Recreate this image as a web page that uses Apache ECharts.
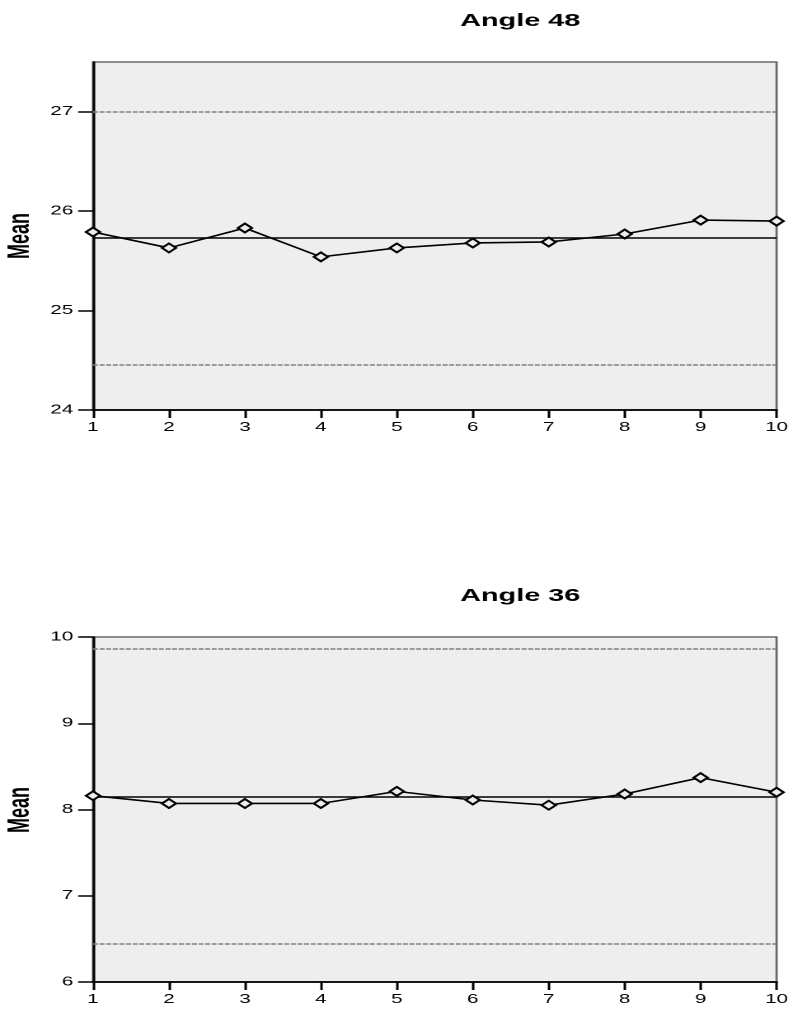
<!DOCTYPE html>
<html>
<head>
<meta charset="utf-8">
<script src="https://cdn.jsdelivr.net/npm/echarts@6/dist/echarts.min.js"></script>
<style>
html,body{margin:0;padding:0;background:#fff;overflow:hidden;width:793px;height:1015px}
#wrap{position:absolute;left:0;top:0;width:481px;height:1015px;transform-origin:0 0;transform:scaleX(1.648649);}
#chart{width:481px;height:1015px}
</style>
</head>
<body>
<div id="wrap"><div id="chart"></div></div>
<script>
// ---- data ----
const categories = ['1','2','3','4','5','6','7','8','9','10'];

const angle48Title = 'Angle 48';
const angle48Means = [25.79, 25.63, 25.83, 25.54, 25.63, 25.68, 25.69, 25.77, 25.91, 25.90];
const angle48Center = 25.73;
const angle48UCL = 27.00;
const angle48LCL = 24.46;
const angle48Ticks = [24, 25, 26, 27];
const angle48Range = [24, 27.5];

const angle36Title = 'Angle 36';
const angle36Means = [8.16, 8.07, 8.07, 8.07, 8.21, 8.11, 8.05, 8.18, 8.37, 8.20];
const angle36Center = 8.15;
const angle36UCL = 9.86;
const angle36LCL = 6.44;
const angle36Ticks = [6, 7, 8, 9, 10];
const angle36Range = [6, 10];

const yName = 'Mean';

// ---- layout (pre-stretch coordinates; page is stretched horizontally) ----
const SX = 793 / 481;
const gridLeft = 93 / SX;
const gridWidth = 686 / SX;
const FONT = '"Liberation Sans", Arial, Helvetica, sans-serif';

const chart = echarts.init(document.getElementById('chart'), null, {renderer: 'canvas', devicePixelRatio: 2});

function xAxisFor(gi) {
  return {
    type: 'category', gridIndex: gi, data: categories, boundaryGap: false,
    axisLine: {show: true, lineStyle: {color: '#000', width: 1.7}},
    axisTick: {show: true, length: 8, lineStyle: {color: '#000', width: 1.5}},
    axisLabel: {color: '#000', fontSize: 12.5, fontFamily: FONT, margin: 11},
    splitLine: {show: false}
  };
}
function yAxisFor(gi, range, ticks) {
  return {
    type: 'value', gridIndex: gi, min: range[0], max: range[1], interval: 1,
    axisLine: {show: true, onZero: false, lineStyle: {color: '#000', width: 1.5}},
    axisTick: {show: true, length: 9, customValues: ticks, lineStyle: {color: '#000', width: 1.5}},
    axisLabel: {color: '#000', fontSize: 12.5, fontFamily: FONT, margin: 12, customValues: ticks},
    splitLine: {show: false}
  };
}
function seriesFor(gi, means, center, ucl, lcl) {
  return {
    type: 'line', xAxisIndex: gi, yAxisIndex: gi, data: means,
    symbol: 'diamond', symbolSize: [8.5, 9], showAllSymbol: true,
    itemStyle: {color: '#eeeeee', borderColor: '#000', borderWidth: 1.7},
    lineStyle: {color: '#000', width: 1.6},
    emphasis: {disabled: true}, animation: false, z: 5,
    markLine: {
      silent: true, symbol: 'none', animation: false,
      label: {show: false},
      data: [
        {yAxis: ucl, lineStyle: {color: '#808080', width: 1.5, type: [3, 1]}},
        {yAxis: lcl, lineStyle: {color: '#808080', width: 1.5, type: [3, 1]}},
        {yAxis: center, lineStyle: {color: '#000', width: 1.6, type: 'solid'}}
      ]
    }
  };
}

const titleStyle = {color: '#000', fontSize: 17.5, fontWeight: 'bold', fontFamily: FONT};
const meanStyle = {text: yName, fill: '#000', font: 'bold 18px "Liberation Sans Narrow", "Arial Narrow", "Liberation Sans", sans-serif', align: 'center', verticalAlign: 'middle'};

chart.setOption({
  animation: false,
  backgroundColor: '#ffffff',
  title: [
    {text: angle48Title, left: 512 / SX, top: 7, textAlign: 'center', textStyle: titleStyle},
    {text: angle36Title, left: 512 / SX, top: 582, textAlign: 'center', textStyle: titleStyle}
  ],
  grid: [
    {left: gridLeft, top: 62, width: gridWidth, height: 348, show: true, backgroundColor: '#eeeeee', borderColor: '#6a6a6a', borderWidth: 1.4},
    {left: gridLeft, top: 637, width: gridWidth, height: 345, show: true, backgroundColor: '#eeeeee', borderColor: '#6a6a6a', borderWidth: 1.4}
  ],
  xAxis: [xAxisFor(0), xAxisFor(1)],
  yAxis: [yAxisFor(0, angle48Range, angle48Ticks), yAxisFor(1, angle36Range, angle36Ticks)],
  graphic: [
    {type: 'text', x: 21 / SX, y: 236, rotation: Math.PI / 2, style: meanStyle, silent: true},
    {type: 'text', x: 21 / SX, y: 810, rotation: Math.PI / 2, style: meanStyle, silent: true}
  ],
  series: [
    seriesFor(0, angle48Means, angle48Center, angle48UCL, angle48LCL),
    seriesFor(1, angle36Means, angle36Center, angle36UCL, angle36LCL)
  ]
});
</script>
</body>
</html>
